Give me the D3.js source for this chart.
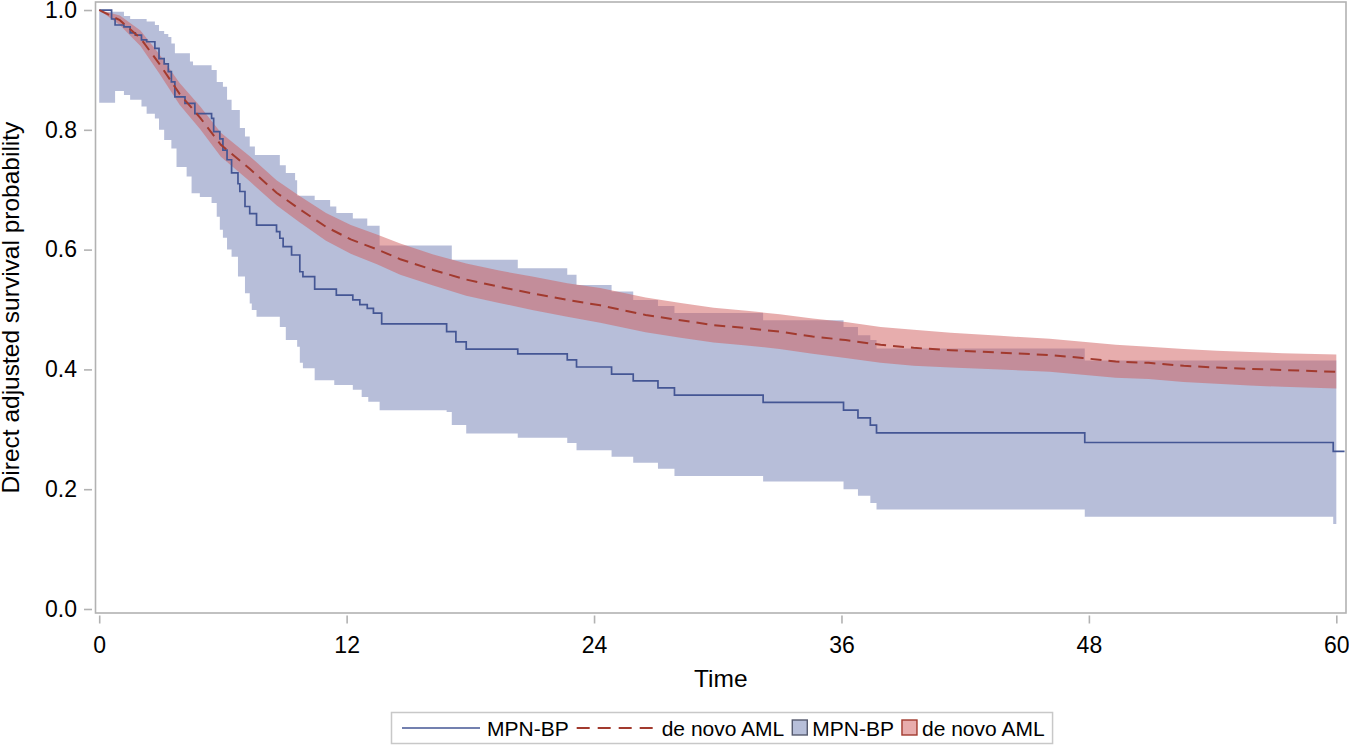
<!DOCTYPE html>
<html>
<head>
<meta charset="utf-8">
<script src="https://cdn.jsdelivr.net/npm/d3@7"></script>
<style>
	body { margin: 0; background: #fff; }
	svg { display: block; font-family: "Liberation Sans", Arial, sans-serif; }
	.axis text { fill: #000; font-size: 23px; }
	.axis line { stroke: #b2b2b2; stroke-width: 1.6; }
	.axis-title { font-size: 24.5px; fill: #000; }
	.legend text { font-size: 21px; fill: #000; }
</style>
</head>
<body>
<svg id="chart" width="1349" height="745"></svg>
<script>
// MPN-BP: Kaplan-Meier style step curve with its confidence band
const mpnTime  = [0, 0.6, 0.77, 1.2, 1.5, 1.75, 2.05, 2.3, 2.7, 2.9, 3.15, 3.35, 3.5, 3.67, 3.75, 4.16, 4.24, 4.4, 4.48, 4.55, 4.64, 4.88, 5.45, 5.55, 5.7, 5.85, 6.0, 6.2, 6.42, 6.73, 6.82, 7.07, 7.3, 7.4, 7.55, 7.63, 8.6, 8.76, 8.92, 9.05, 9.33, 9.5, 9.6, 9.73, 9.88, 10.45, 11.2, 11.4, 11.5, 12.3, 12.64, 12.73, 13.0, 13.05, 13.3, 13.6, 13.7, 16.85, 17.1, 17.3, 17.8, 20.3, 22.7, 23.15, 24.85, 25.9, 27.1, 27.9, 32.2, 36.1, 36.8, 37.4, 37.7, 47.8, 59.85, 60.0];
const mpnSurv  = [1.0, 0.985, 0.975, 0.972, 0.962, 0.958, 0.95, 0.947, 0.936, 0.919, 0.91, 0.897, 0.88, 0.855, 0.855, 0.844, 0.844, 0.844, 0.844, 0.844, 0.827, 0.827, 0.819, 0.797, 0.797, 0.785, 0.766, 0.75, 0.728, 0.71, 0.697, 0.672, 0.66, 0.66, 0.66, 0.641, 0.63, 0.619, 0.605, 0.605, 0.591, 0.591, 0.591, 0.563, 0.555, 0.534, 0.534, 0.534, 0.524, 0.516, 0.508, 0.508, 0.502, 0.502, 0.494, 0.494, 0.476, 0.463, 0.463, 0.446, 0.434, 0.426, 0.416, 0.404, 0.392, 0.381, 0.369, 0.357, 0.345, 0.332, 0.319, 0.307, 0.294, 0.278, 0.263, 0.263];
const mpnLower = [0.845, 0.845, 0.865, 0.858, 0.85, 0.85, 0.839, 0.827, 0.819, 0.8, 0.783, 0.783, 0.769, 0.769, 0.738, 0.738, 0.722, 0.722, 0.694, 0.694, 0.694, 0.688, 0.678, 0.678, 0.655, 0.633, 0.62, 0.6, 0.588, 0.555, 0.555, 0.527, 0.51, 0.499, 0.499, 0.488, 0.488, 0.471, 0.471, 0.449, 0.449, 0.449, 0.438, 0.411, 0.402, 0.382, 0.382, 0.374, 0.374, 0.366, 0.366, 0.354, 0.354, 0.346, 0.346, 0.332, 0.332, 0.329, 0.307, 0.307, 0.293, 0.286, 0.277, 0.265, 0.254, 0.244, 0.234, 0.222, 0.213, 0.2, 0.189, 0.177, 0.166, 0.154, 0.142, 0.142];
const mpnUpper = [0.997, 0.997, 0.997, 0.99, 0.985, 0.985, 0.985, 0.981, 0.975, 0.965, 0.96, 0.955, 0.944, 0.928, 0.928, 0.928, 0.928, 0.914, 0.914, 0.908, 0.908, 0.908, 0.9, 0.9, 0.88, 0.88, 0.872, 0.85, 0.833, 0.833, 0.803, 0.789, 0.772, 0.772, 0.758, 0.758, 0.758, 0.741, 0.741, 0.728, 0.728, 0.716, 0.69, 0.69, 0.69, 0.683, 0.672, 0.672, 0.661, 0.652, 0.652, 0.652, 0.64, 0.64, 0.64, 0.607, 0.607, 0.607, 0.583, 0.583, 0.583, 0.569, 0.558, 0.541, 0.53, 0.516, 0.506, 0.494, 0.482, 0.471, 0.457, 0.449, 0.435, 0.415, 0.415, 0.415];
const mpnLastFollowUp = 60.4;

// de novo AML: direct adjusted curve with its confidence band
const amlTime  = [0, 1.0, 2.0, 2.9, 3.9, 4.9, 5.9, 7.3, 8.6, 9.7, 11.0, 12.2, 13.5, 14.6, 16.2, 17.8, 19.4, 21.0, 22.7, 24.3, 26.5, 28.2, 29.8, 31.4, 33.0, 34.6, 36.2, 37.9, 39.5, 41.3, 43.7, 46.1, 47.7, 49.3, 50.9, 52.6, 54.2, 55.8, 57.4, 60.0];
const amlSurv  = [1.0, 0.983, 0.953, 0.911, 0.86, 0.82, 0.775, 0.735, 0.695, 0.668, 0.638, 0.617, 0.6, 0.584, 0.566, 0.55, 0.538, 0.527, 0.516, 0.507, 0.491, 0.482, 0.474, 0.469, 0.463, 0.455, 0.449, 0.441, 0.436, 0.432, 0.428, 0.424, 0.419, 0.413, 0.411, 0.406, 0.403, 0.401, 0.399, 0.396];
const amlUpper = [1.0, 0.991, 0.966, 0.927, 0.878, 0.839, 0.795, 0.756, 0.716, 0.69, 0.661, 0.641, 0.625, 0.61, 0.592, 0.577, 0.565, 0.555, 0.544, 0.536, 0.52, 0.511, 0.503, 0.498, 0.492, 0.485, 0.479, 0.471, 0.466, 0.461, 0.456, 0.451, 0.446, 0.441, 0.438, 0.434, 0.431, 0.429, 0.427, 0.425];
const amlLower = [1.0, 0.975, 0.94, 0.895, 0.842, 0.801, 0.755, 0.714, 0.674, 0.646, 0.615, 0.593, 0.575, 0.558, 0.54, 0.523, 0.511, 0.499, 0.488, 0.478, 0.462, 0.453, 0.445, 0.44, 0.434, 0.426, 0.419, 0.411, 0.406, 0.403, 0.4, 0.396, 0.391, 0.386, 0.384, 0.379, 0.376, 0.373, 0.371, 0.368];

const xTicks = [0, 12, 24, 36, 48, 60];
const yTicks = [0, 0.2, 0.4, 0.6, 0.8, 1.0];
const xDomain = [-0.18, 60.47];
const yDomain = [-0.0067, 1.0134];

const legendItems = [
	{ type: 'line', label: 'MPN-BP', key: 'mpn' },
	{ type: 'line', label: 'de novo AML', key: 'aml' },
	{ type: 'band', label: 'MPN-BP', key: 'mpn' },
	{ type: 'band', label: 'de novo AML', key: 'aml' }
];

const colors = {
	mpn: { line: '#445694', fill: '#6f7eb3' },
	aml: { line: '#a23a2e', fill: '#d05b5b' }
};

// plot frame (SAS-style wall)
const frame = { left: 95.5, right: 1346, top: 2, bottom: 613 };
const axisGap = 2.5;

const svg = d3.select('#chart');

const x = d3.scaleLinear().domain(xDomain).range([frame.left, frame.right]);
const y = d3.scaleLinear().domain(yDomain).range([frame.bottom, frame.top]);

const zip = (t, s, lo, hi) => t.map((d, i) => ({ t: d, s: s[i], lo: lo[i], hi: hi[i] }));
const mpn = zip(mpnTime, mpnSurv, mpnLower, mpnUpper);
const aml = zip(amlTime, amlSurv, amlLower, amlUpper);
const mpnLineData = [...mpn, { t: mpnLastFollowUp, s: mpnSurv[mpnSurv.length - 1] }];

const plot = svg.append('g');

// bands first, blue then red on top (both half transparent)
plot.append('path')
	.datum(mpn)
	.attr('fill', colors.mpn.fill)
	.attr('fill-opacity', 0.5)
	.attr('d', d3.area().curve(d3.curveStepAfter)
		.x(d => x(d.t)).y0(d => y(d.lo)).y1(d => y(d.hi)));

plot.append('path')
	.datum(aml)
	.attr('fill', colors.aml.fill)
	.attr('fill-opacity', 0.5)
	.attr('d', d3.area()
		.x(d => x(d.t)).y0(d => y(d.lo)).y1(d => y(d.hi)));

plot.append('path')
	.datum(mpnLineData)
	.attr('fill', 'none')
	.attr('stroke', colors.mpn.line)
	.attr('stroke-width', 1.7)
	.attr('d', d3.line().curve(d3.curveStepAfter).x(d => x(d.t)).y(d => y(d.s)));

plot.append('path')
	.datum(aml)
	.attr('fill', 'none')
	.attr('stroke', colors.aml.line)
	.attr('stroke-width', 2)
	.attr('stroke-dasharray', '11,7')
	.attr('d', d3.line().x(d => x(d.t)).y(d => y(d.s)));

// wall outline
svg.append('rect')
	.attr('x', frame.left).attr('y', frame.top)
	.attr('width', frame.right - frame.left).attr('height', frame.bottom - frame.top)
	.attr('fill', 'none')
	.attr('stroke', '#b2b2b2')
	.attr('stroke-width', 1.6);

// axes
svg.append('g')
	.attr('class', 'axis')
	.attr('transform', `translate(0, ${frame.bottom + axisGap})`)
	.call(d3.axisBottom(x).tickValues(xTicks).tickSize(8).tickPadding(13).tickFormat(d3.format('d')))
	.call(g => g.select('.domain').remove());

svg.append('g')
	.attr('class', 'axis')
	.attr('transform', `translate(${frame.left - axisGap - 1}, 0)`)
	.call(d3.axisLeft(y).tickValues(yTicks).tickSize(8).tickPadding(7).tickFormat(d3.format('.1f')))
	.call(g => g.select('.domain').remove());

svg.selectAll('.axis text').attr('font-family', null);

svg.append('text')
	.attr('class', 'axis-title')
	.attr('x', (frame.left + frame.right) / 2)
	.attr('y', 687)
	.attr('text-anchor', 'middle')
	.text('Time');

svg.append('text')
	.attr('class', 'axis-title')
	.attr('transform', `translate(19, ${(frame.top + frame.bottom) / 2}) rotate(-90)`)
	.attr('text-anchor', 'middle')
	.text('Direct adjusted survival probability');

// legend
const legend = svg.append('g').attr('class', 'legend');
const legendBox = legend.append('rect')
	.attr('fill', 'none')
	.attr('stroke', '#c8c8c8')
	.attr('stroke-width', 1.5);

const ly = 728;
let cx = 402;
legendItems.forEach(item => {
	const c = colors[item.key];
	if (item.type === 'line') {
		legend.append('line')
			.attr('x1', cx).attr('x2', cx + 78)
			.attr('y1', ly).attr('y2', ly)
			.attr('stroke', c.line)
			.attr('stroke-width', item.key === 'aml' ? 2 : 1.7)
			.attr('stroke-dasharray', item.key === 'aml' ? '13,8' : null);
		cx += 85;
	} else {
		legend.append('rect')
			.attr('x', cx).attr('y', ly - 8)
			.attr('width', 15).attr('height', 15)
			.attr('fill', d3.interpolateRgb('#fff', c.fill)(0.5))
			.attr('stroke', item.key === 'aml' ? c.line : '#555a6e')
			.attr('stroke-width', 1.4);
		cx += 20;
	}
	const t = legend.append('text')
		.attr('x', cx).attr('y', ly + 7.5)
		.text(item.label);
	cx += t.node().getComputedTextLength() + 8;
});

legendBox
	.attr('x', 391.5).attr('y', 712.5)
	.attr('width', cx - 391.5)
	.attr('height', 31);
</script>
</body>
</html>
